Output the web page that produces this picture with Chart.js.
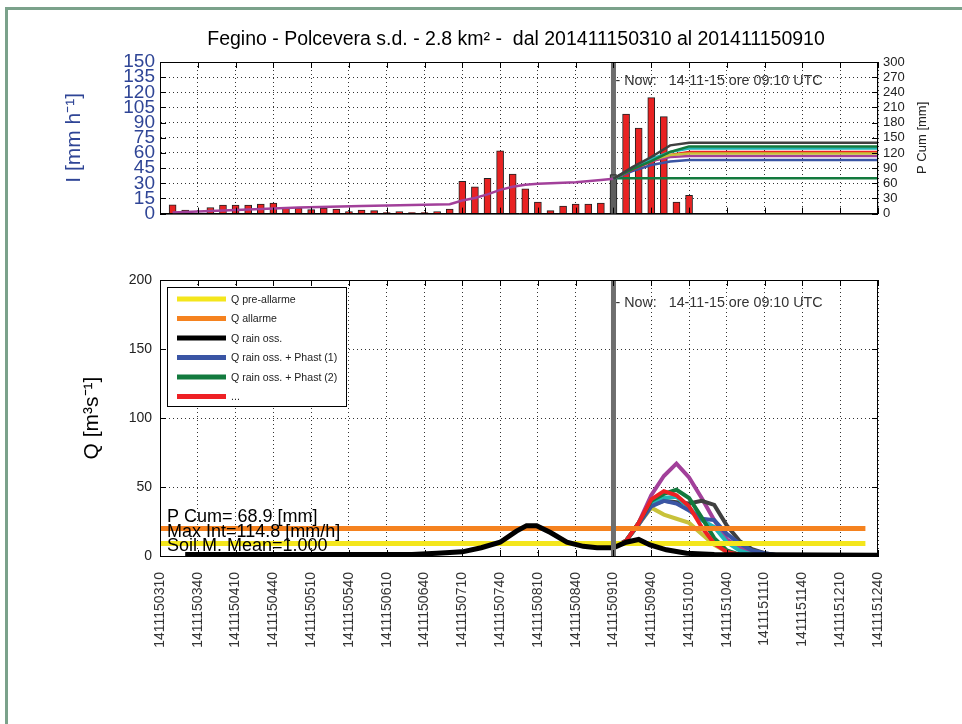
<!DOCTYPE html>
<html>
<head>
<meta charset="utf-8">
<script src="https://cdn.jsdelivr.net/npm/chart.js@4.4.0/dist/chart.umd.min.js"></script>
<style>
  html, body { margin: 0; padding: 0; background: #fff; overflow: hidden; }
  body { width: 962px; height: 724px; position: relative; }
  #frame { position: absolute; left: 5px; top: 7px; width: 1000px; height: 800px;
           border-left: 3px solid #7ba28b; border-top: 3px solid #7ba28b; }
  canvas { position: absolute; left: 0; }
</style>
</head>
<body>
<div id="frame"></div>
<canvas id="rainChart" width="962" height="230" style="top:0"></canvas>
<canvas id="flowChart" width="962" height="494" style="top:230px"></canvas>
<script>
// time axis: minutes after 14-11-15 03:10
const timeLabels = ["1411150310", "1411150340", "1411150410", "1411150440", "1411150510",
  "1411150540", "1411150610", "1411150640", "1411150710", "1411150740", "1411150810",
  "1411150840", "1411150910", "1411150940", "1411151010", "1411151040", "1411151110",
  "1411151140", "1411151210", "1411151240"];
const nowMinute = 360;
const titleText = "Fegino - Polcevera s.d. - 2.8 km\u00B2 -  dal 201411150310 al 201411150910";
const nowText = "- Now:   14-11-15 ore 09:10 UTC";

// rain intensity [mm/h], every 10 min
const rainTimes = [10, 20, 30, 40, 50, 60, 70, 80, 90, 100, 110, 120, 130, 140, 150, 160, 170, 180,
  190, 200, 210, 220, 230, 240, 250, 260, 270, 280, 290, 300, 310, 320, 330, 340, 350, 360,
  370, 380, 390, 400, 410, 420];
const rainValues = [8.7, 3.5, 0, 6, 8.5, 8.5, 8.5, 9.5, 10.5, 5.5, 5.5, 4, 5.5, 4.5, 2, 3.5, 3, 1,
  2, 1, 1, 2, 4.5, 32, 26.5, 35, 62, 39, 24.5, 11.5, 3, 7.5, 9.5, 9.5, 10.5, 38.5,
  98.5, 84.5, 114.8, 96, 11.5, 18];

// cumulated rain [mm], observed
const cumObsTimes = [10, 60, 110, 160, 200, 230, 240, 250, 260, 270, 280, 290, 300, 330, 350, 360];
const cumObsValues = [2, 7, 12, 15, 17, 18.5, 26, 31, 38, 47, 53, 57, 59, 62, 66.5, 69];

// cumulated rain [mm], forecast scenarios
const cumFcTimes = [360, 375, 390, 405, 420, 570];
const cumFcGray = [69, 92, 112, 135, 140, 140];
const cumFcGreen = [69, 88, 104, 122, 133, 133];
const cumFcCyan = [69, 90, 108, 122, 129, 129];
const cumFcRed = [69, 87, 103, 116, 122, 122];
const cumFcOlive = [69, 89, 106, 116, 119, 119];
const cumFcPurple = [69, 90, 104, 112, 114, 114];
const cumFcBlue = [69, 84, 96, 103, 106, 106];
const cumNoRainTimes = [360, 570];
const cumNoRainValues = [70, 70];

// discharge [m3/s], observed rain
const qObsTimes = [20, 100, 200, 220, 240, 255, 270, 283, 291, 299, 310, 323, 336, 347, 360,
  370, 380, 389, 402, 418, 440, 570];
const qObsValues = [1, 1, 1, 2, 3, 6, 10, 18, 22, 22, 17, 10, 7, 6, 6,
  10, 12, 8, 4.5, 2, 1, 0.5];

// discharge [m3/s], forecast scenarios
const qFcTimes = [360, 370, 380, 390, 400, 410, 420, 430, 440, 450, 460, 470, 480, 490];
const qFcRed = [6, 11, 24, 41, 47, 44, 36, 21, 9, 3, 1, 0, 0, 0];
const qFcGreen = [6, 11, 24, 40, 45, 48, 42, 28, 13, 4, 1, 0, 0, 0];
const qFcBlue = [6, 11, 23, 36, 40, 38, 33, 27, 26, 16, 9, 4, 2, 0.5];
const qFcCyan = [6, 11, 24, 38, 42, 43, 35, 26, 21, 10, 4, 1, 0, 0];
const qFcOlive = [6, 11, 23, 35, 30, 27, 24, 16, 8, 3, 1, 0, 0, 0];
const qFcGray = [6, 11, 23, 37, 40, 39, 38, 40, 37, 22, 11, 5, 2, 0.5];
const qFcPurple = [6, 11, 24, 44, 58, 67, 57, 42, 26, 12, 6, 2, 0.5, 0];

// thresholds [m3/s]
const thresholdTimes = [0, 560];
const qPreAlarm = 9;
const qAlarm = 20;

// texts inside the discharge panel
const infoLines = ["P Cum= 68.9 [mm]", "Max Int=114.8 [mm/h]", "Soil M. Mean=1.000"];
const legendLabels = ["Q pre-allarme", "Q allarme", "Q rain oss.", "Q rain oss. + Phast (1)",
  "Q rain oss. + Phast (2)", "..."];

const C = {
  yellow: "#f4e61c", orange: "#f5821f", black: "#000000", blue: "#3a55a4",
  green: "#137a3e", red: "#ee2024", purple: "#a2409a", gray: "#404040",
  cyan: "#22b5b5", olive: "#c8c23a", axisBlue: "#2f4596"
};
const legendColors = [C.yellow, C.orange, C.black, C.blue, C.green, C.red];

Chart.defaults.font.family = '"Liberation Sans", Arial, sans-serif';

function pts(xs, ys) {
  return xs.map((x, i) => ({ x: x, y: ys[i] }));
}

function lineSet(xs, ys, color, width, axis) {
  return {
    type: "line",
    data: pts(xs, ys),
    borderColor: color,
    borderWidth: width,
    pointRadius: 0,
    tension: 0,
    yAxisID: axis || "y"
  };
}

// vertical "now" line and its label
function nowPlugin(over, textDy) {
  function draw(chart) {
    const { ctx, chartArea } = chart;
    const x = chart.scales.x.getPixelForValue(nowMinute);
    ctx.save();
    ctx.fillStyle = "#6e6e6e";
    ctx.fillRect(x - 2.5, chartArea.top, 5, chartArea.bottom - chartArea.top);
    ctx.restore();
  }
  return {
    id: "nowLine",
    beforeDatasetsDraw(chart) { if (!over) draw(chart); },
    afterDatasetsDraw(chart) {
      if (over) draw(chart);
      const { ctx, chartArea } = chart;
      const x = chart.scales.x.getPixelForValue(nowMinute);
      ctx.save();
      ctx.fillStyle = "#333";
      ctx.font = '14.3px "Liberation Sans", Arial, sans-serif';
      ctx.textBaseline = "alphabetic";
      ctx.fillText(nowText, x + 2, chartArea.top + textDy);
      ctx.restore();
    }
  };
}

// box around the plot and inward tick marks
const boxPlugin = {
  id: "boxTicks",
  afterDraw(chart) {
    const { ctx, chartArea } = chart;
    const { left, right, top, bottom } = chartArea;
    ctx.save();
    ctx.strokeStyle = "#000";
    ctx.lineWidth = 1;
    ctx.strokeRect(left + 0.5, top + 0.5, right - left - 1, bottom - top);
    ctx.beginPath();
    chart.scales.x.ticks.forEach(t => {
      const px = Math.round(chart.scales.x.getPixelForValue(t.value)) + 0.5;
      ctx.moveTo(px, bottom); ctx.lineTo(px, bottom - 6);
      ctx.moveTo(px, top); ctx.lineTo(px, top + 6);
    });
    chart.scales.y.ticks.forEach(t => {
      const py = Math.round(chart.scales.y.getPixelForValue(t.value)) + 0.5;
      ctx.moveTo(left, py); ctx.lineTo(left + 6, py);
      if (!chart.scales.y2) { ctx.moveTo(right, py); ctx.lineTo(right - 6, py); }
    });
    if (chart.scales.y2) {
      chart.scales.y2.ticks.forEach(t => {
        const py = Math.round(chart.scales.y2.getPixelForValue(t.value)) + 0.5;
        ctx.moveTo(right, py); ctx.lineTo(right - 6, py);
      });
    }
    ctx.stroke();
    ctx.restore();
  }
};

const rainTextPlugin = {
  id: "rainText",
  afterDraw(chart) {
    const { ctx, chartArea } = chart;
    ctx.save();
    ctx.fillStyle = "#000";
    ctx.font = '19.5px "Liberation Sans", Arial, sans-serif';
    ctx.textAlign = "center";
    ctx.fillText(titleText, (chartArea.left + chartArea.right) / 2 - 3, 45);
    // right axis title, reading bottom to top
    ctx.translate(922, (chartArea.top + chartArea.bottom) / 2);
    ctx.rotate(-Math.PI / 2);
    ctx.fillStyle = "#222";
    ctx.font = '13px "Liberation Sans", Arial, sans-serif';
    ctx.textBaseline = "middle";
    ctx.fillText("P Cum [mm]", 0, 0);
    ctx.restore();
  }
};

const flowTextPlugin = {
  id: "flowText",
  afterDraw(chart) {
    const { ctx, chartArea } = chart;
    const left = chartArea.left, top = chartArea.top, bottom = chartArea.bottom;
    ctx.save();
    // info lines
    ctx.fillStyle = "#000";
    ctx.font = '18px "Liberation Sans", Arial, sans-serif';
    ctx.fillText(infoLines[0], left + 7, bottom - 34);
    ctx.fillText(infoLines[1], left + 7, bottom - 19);
    ctx.fillText(infoLines[2], left + 7, bottom - 5);
    // legend box
    const bx = left + 7, by = top + 7, bw = 179, bh = 119;
    ctx.fillStyle = "#fff";
    ctx.fillRect(bx, by, bw, bh);
    ctx.strokeStyle = "#000";
    ctx.lineWidth = 1;
    ctx.strokeRect(bx + 0.5, by + 0.5, bw, bh);
    ctx.font = '10.6px "Liberation Sans", Arial, sans-serif';
    ctx.textBaseline = "middle";
    legendLabels.forEach((lab, i) => {
      const ly = by + 12 + i * 19.5;
      ctx.strokeStyle = legendColors[i];
      ctx.lineWidth = 5;
      ctx.beginPath();
      ctx.moveTo(bx + 10, ly); ctx.lineTo(bx + 59, ly);
      ctx.stroke();
      ctx.fillStyle = "#222";
      ctx.fillText(lab, bx + 64, ly + 1);
    });
    ctx.restore();
  }
};

const dottedGrid = { color: "#333", drawTicks: false, lineWidth: 1 };
const dotted = { dash: [1, 3], color: "#000" };

// upper panel: rain intensity and cumulated rain
new Chart(document.getElementById("rainChart"), {
  type: "bar",
  data: {
    datasets: [
      lineSet(cumFcTimes, cumFcGray, C.gray, 2.5, "y2"),
      lineSet(cumFcTimes, cumFcGreen, C.green, 2.5, "y2"),
      lineSet(cumFcTimes, cumFcCyan, C.cyan, 2.5, "y2"),
      lineSet(cumFcTimes, cumFcOlive, C.olive, 2.5, "y2"),
      lineSet(cumFcTimes, cumFcPurple, C.purple, 2.5, "y2"),
      lineSet(cumFcTimes, cumFcRed, C.red, 2.5, "y2"),
      lineSet(cumFcTimes, cumFcBlue, C.blue, 2.5, "y2"),
      lineSet(cumNoRainTimes, cumNoRainValues, C.green, 2.5, "y2"),
      lineSet(cumObsTimes, cumObsValues, C.purple, 2.5, "y2"),
      {
        type: "bar",
        data: pts(rainTimes, rainValues),
        backgroundColor: rainTimes.map(t => (t === nowMinute ? "#5e5e5e" : "#e82222")),
        borderColor: "#222",
        borderWidth: 1,
        barThickness: 7,
        yAxisID: "y"
      }
    ]
  },
  options: {
    responsive: false,
    animation: false,
    layout: { padding: { top: 62, left: 0, right: 0, bottom: 0 } },
    plugins: { legend: { display: false }, tooltip: { enabled: false } },
    scales: {
      x: {
        type: "linear", min: 0, max: 570, offset: false,
        grid: Object.assign({ offset: false }, dottedGrid),
        border: dotted,
        ticks: { stepSize: 30, display: false },
        afterFit: s => { s.height = 12; }
      },
      y: {
        position: "left", min: 0, max: 150,
        grid: dottedGrid,
        border: dotted,
        ticks: { stepSize: 15, autoSkip: false, color: C.axisBlue, font: { size: 19 }, padding: 5 },
        title: {
          display: true, text: "I [mm h\u207B\u00B9]", color: C.axisBlue,
          font: { size: 21 }, padding: { top: 62, bottom: 0 }
        },
        afterFit: s => { s.width = 160; }
      },
      y2: {
        position: "right", min: 0, max: 300,
        grid: { display: false, drawTicks: false },
        ticks: { stepSize: 30, autoSkip: false, color: "#222", font: { size: 13 }, padding: 5 },
        afterFit: s => { s.width = 84; }
      }
    }
  },
  plugins: [nowPlugin(false, 23), boxPlugin, rainTextPlugin]
});

// lower panel: discharge
new Chart(document.getElementById("flowChart"), {
  type: "line",
  data: {
    datasets: [
      lineSet(qObsTimes, qObsValues, C.black, 5),
      lineSet(thresholdTimes, [qAlarm, qAlarm], C.orange, 5),
      lineSet(thresholdTimes, [qPreAlarm, qPreAlarm], C.yellow, 5),
      lineSet(qFcTimes, qFcRed, C.red, 4),
      lineSet(qFcTimes, qFcGreen, C.green, 4),
      lineSet(qFcTimes, qFcBlue, C.blue, 4),
      lineSet(qFcTimes, qFcCyan, C.cyan, 4),
      lineSet(qFcTimes, qFcOlive, C.olive, 4),
      lineSet(qFcTimes, qFcGray, C.gray, 4),
      lineSet(qFcTimes, qFcPurple, C.purple, 4)
    ]
  },
  options: {
    responsive: false,
    animation: false,
    layout: { padding: { top: 50, left: 0, right: 84, bottom: 0 } },
    plugins: { legend: { display: false }, tooltip: { enabled: false } },
    scales: {
      x: {
        type: "linear", min: 0, max: 570,
        grid: dottedGrid,
        border: dotted,
        ticks: {
          stepSize: 30, autoSkip: false, minRotation: 90, maxRotation: 90,
          padding: 16, color: "#333", font: { size: 14 },
          callback: v => timeLabels[Math.round(v / 30)]
        },
        afterFit: s => { s.height = 168; }
      },
      y: {
        min: 0, max: 200,
        grid: dottedGrid,
        border: dotted,
        ticks: { stepSize: 50, color: "#222", font: { size: 14 }, padding: 8 },
        title: {
          display: true, text: "Q [m\u00B3s\u207B\u00B9]", color: "#000",
          font: { size: 21 }, padding: { top: 80, bottom: 0 }
        },
        afterFit: s => { s.width = 160; }
      }
    }
  },
  plugins: [nowPlugin(true, 27), boxPlugin, flowTextPlugin]
});
</script>
</body>
</html>
